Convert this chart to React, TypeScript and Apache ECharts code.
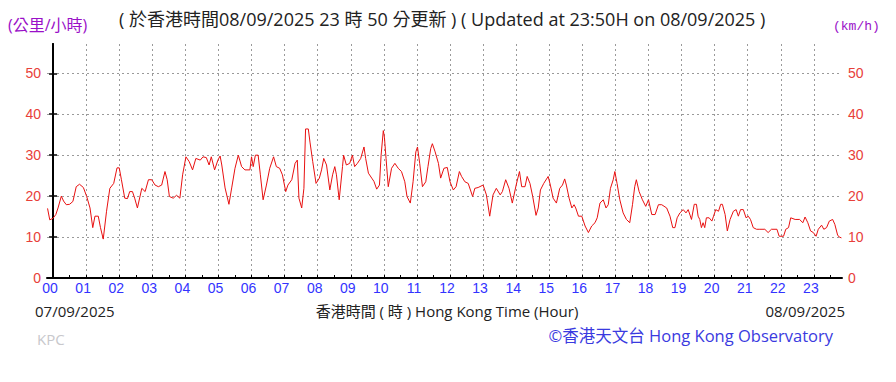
import React, { useEffect, useRef } from "react";
import * as echarts from "echarts";

// minutes from 00:00 (hour axis 00..23), wind speed km/h
const minutes = [
  -10, -6, 0, 5, 9, 15, 19, 24, 30, 36, 42, 48, 55, 61, 67, 72, 76, 82, 86, 91, 97, 103, 110, 116, 120, 124, 130, 135, 139, 144, 148, 153, 161, 167, 173, 179, 185, 191, 197, 203, 207, 211, 218, 224, 230, 235, 241, 247, 253, 259, 267, 272, 278, 283, 287, 293, 299, 303,
  306, 312, 319, 324, 330, 336, 342, 348, 357, 360, 363, 367, 372, 376, 381, 387, 393, 400, 405, 411, 416, 422, 426, 433, 439, 443, 446, 451, 455, 458, 463, 466, 471, 477, 483, 487, 491, 496, 502, 507, 511, 514, 519, 525, 527, 532, 538, 543, 547, 552, 558, 564, 567, 572, 578, 582, 587, 592,
  595, 599, 601, 604, 608, 614, 620, 626, 632, 638, 642, 648, 653, 658, 661, 665, 670, 676, 680, 685, 688, 693, 699, 703, 709, 715, 720, 726, 731, 737, 741, 747, 753, 761, 765, 771, 780, 786, 792, 798, 804, 811, 815, 821, 827, 833, 840, 846, 850, 856, 860, 865, 870, 876, 880,
  884, 890, 898, 902, 907, 913, 919, 924, 928, 931, 936, 941, 945, 948, 953, 959, 965, 971, 977, 983, 987, 992, 998, 1003, 1007, 1011, 1016, 1019, 1023, 1028, 1034, 1040, 1046, 1051, 1055, 1058, 1063, 1069, 1075, 1080, 1086, 1092, 1098, 1104, 1113, 1119, 1124, 1128, 1132,
  1137, 1143, 1148, 1152, 1158, 1163, 1167, 1170, 1173, 1176, 1179, 1182, 1185, 1190, 1195, 1198, 1202, 1207, 1211, 1214, 1219, 1223, 1228, 1234, 1239, 1243, 1247, 1252, 1257, 1261, 1265, 1270, 1276, 1282, 1291, 1297, 1303, 1313, 1317, 1325, 1329, 1334, 1338, 1346, 1354, 1360, 1364, 1369, 1374, 1379, 1384, 1388, 1394, 1398, 1403, 1408, 1414, 1418, 1423, 1426, 1430,
];

const speeds = [
  17.0, 14.2, 14.6, 15.5, 17.1, 20, 18.8, 17.9, 18, 18.7, 22.3, 22.9, 22.1, 19.9, 17.1, 12.3, 15.1, 15.1, 12.3, 9.5, 16.3, 21.9, 23.1, 26.9, 26.9, 24, 19.5, 19.4, 21.1, 21.1, 19.5, 17.1, 21.9, 21.1, 24, 24, 22.7, 22.3, 22.7, 26, 24, 19.9, 19.5, 20.2, 19.5, 25.2, 29.6, 28.4, 26.4, 29.2, 28.8, 29.6, 29.4, 27.6, 29.6, 26.4, 28.8, 29.8,
  27.6, 22, 18, 22, 26.8, 30, 27.2, 26.4, 26.4, 29.6, 27.2, 30, 30, 25.2, 19.1, 22.7, 26.8, 29.6, 27.2, 26.8, 25.2, 21.1, 22.7, 24, 28, 28.8, 19.5, 17.1, 21.9, 36.4, 36.4, 33.2, 28.4, 23.1, 24.4, 26.4, 29.2, 27.6, 21.5, 25.2, 27.2, 25.2, 19.1, 27.2, 30, 27.6, 28, 30, 27.2, 28, 29.2, 32, 29.2, 25.6, 24.4, 23.6, 21.7, 22.7,
  30, 36, 34.4, 29.2, 22.3, 26.8, 28, 26.8, 26, 23.5, 19.9, 18.3, 23.5, 30.8, 32, 28, 22.3, 23.5, 27.2, 31.6, 32.8, 30.8, 28, 24.4, 26.8, 27, 23.5, 21.5, 22.3, 26, 24.8, 23.5, 23.1, 19.9, 21.9, 22.1, 22.7, 20.3, 15.1, 20.3, 21.9, 20.3, 21.1, 24, 21.9, 18.3, 22.7, 26, 22.3, 22.3, 24.8, 23.1, 19.9, 15.3, 17.1,
  21.5, 23.1, 24.8, 22.7, 19.5, 18.3, 21.9, 22.7, 24.2, 22.7, 19.5, 17.1, 17.9, 17.1, 15.1, 15.1, 12.7, 11.1, 12.7, 13.5, 14.7, 18.3, 19.1, 17.1, 17.9, 21.9, 24, 26, 23.1, 19.1, 15.9, 14.3, 13.5, 17.9, 22.3, 24, 21.1, 19.1, 17.5, 19.1, 15.5, 15.5, 17.9, 17.9, 17.1, 15.1, 12.3, 12.3, 14.7,
  15.9, 16.7, 15.9, 16.7, 14.3, 18, 18, 15.1, 14.3, 12.3, 13.5, 12.3, 14.7, 14.7, 13.9, 15.1, 16.7, 16.3, 18, 18, 15.5, 11.5, 14.3, 16.3, 16.7, 15.1, 16.7, 16.7, 14.7, 15.1, 14.3, 12.3, 11.9, 11.9, 11.9, 11.1, 11.9, 11.9, 10.2, 10.2, 11.9, 12.3, 14.7, 14.3, 14.3, 13.5, 14.9, 13.5, 11.5, 11.1, 10.2, 11.9, 12.9, 11.9, 12.3, 13.9, 14.3, 13.1, 10.5, 10, 9.8,
];

const hourTicks = [0, 60, 120, 180, 240, 300, 360, 420, 480, 540, 600, 660, 720, 780, 840, 900, 960, 1020, 1080, 1140, 1200, 1260, 1320, 1380];
const halfHourTicks = [30, 90, 150, 210, 270, 330, 390, 450, 510, 570, 630, 690, 750, 810, 870, 930, 990, 1050, 1110, 1170, 1230, 1290, 1350, 1410];
const speedTicks = [0, 10, 20, 30, 40, 50];

const titleText = "( 於香港時間08/09/2025 23 時 50 分更新 ) ( Updated at 23:50H on 08/09/2025 )";
const unitLeft = "(公里/小時)";
const unitRight = "(km/h)";
const dateLeft = "07/09/2025";
const dateRight = "08/09/2025";
const axisName = "香港時間 ( 時 ) Hong Kong Time (Hour)";
const stationText = "KPC";
const creditText = "©香港天文台 Hong Kong Observatory";

const SANS = "'Segoe UI', 'Open Sans', 'Noto Sans', 'Noto Sans CJK TC', sans-serif";
const ARIAL = "'Liberation Sans', Arial, sans-serif";

export default function App() {
  const ref = useRef<HTMLDivElement>(null);
  useEffect(() => {
    if (!ref.current) return;
    const chart = echarts.init(ref.current, undefined, { renderer: "svg" });
    const data = minutes.map((m, i) => [m, speeds[i]]);
    const gridLine = { show: true, lineStyle: { color: "#9a9a9a", width: 1, type: [2, 3] as any } };
    const yAxisBase = {
      type: "value" as const,
      min: 0,
      max: 57.15,
      axisLine: { show: true, lineStyle: { color: "#000", width: 2 } },
      axisTick: { show: true, inside: true, length: 4, customValues: speedTicks, lineStyle: { color: "#000", width: 1.5 } },
      axisLabel: { customValues: speedTicks, color: "#e8403a", fontSize: 14, fontFamily: ARIAL, margin: 6 },
    };
    const text = (x: number, y: number, t: string, font: string, fill: string, align = "left") => ({
      type: "text",
      x,
      y,
      style: { text: t, font, fill, textAlign: align, align, textVerticalAlign: "middle", verticalAlign: "middle" },
    });
    chart.setOption({
      animation: false,
      backgroundColor: "#fff",
      grid: { left: 47, right: 54, top: 44, bottom: 104, containLabel: false },
      xAxis: [
        {
          type: "value",
          min: -11,
          max: 1431,
          axisLine: { show: true, onZero: false, lineStyle: { color: "#000", width: 2 } },
          axisTick: { show: true, inside: true, length: 3, customValues: hourTicks, lineStyle: { color: "#000" } },
          axisLabel: {
            customValues: hourTicks,
            color: "#3333ff",
            fontSize: 14,
            fontFamily: ARIAL,
            margin: 3,
            padding: [0, 6, 0, 0],
            formatter: (v: number) => String(Math.round(v / 60)).padStart(2, "0"),
          },
          splitLine: gridLine,
        },
        {
          type: "value",
          min: -11,
          max: 1431,
          position: "bottom",
          axisLine: { show: false },
          axisTick: { show: true, inside: true, length: 3, customValues: halfHourTicks, lineStyle: { color: "#000" } },
          axisLabel: { show: false },
          splitLine: { show: false },
        },
      ],
      yAxis: [
        { ...yAxisBase, position: "left", splitLine: gridLine },
        { ...yAxisBase, position: "right", splitLine: { show: false } },
      ],
      series: [
        {
          type: "line",
          data,
          xAxisIndex: 0,
          yAxisIndex: 0,
          showSymbol: false,
          symbol: "none",
          lineStyle: { color: "#e81010", width: 1 },
        },
      ],
      graphic: [
        text(8, 25, unitLeft, `16px ${SANS}`, "#9a10c8"),
        text(119, 19, titleText, `18px ${SANS}`, "#222"),
        text(833, 26, unitRight, `13px 'Liberation Mono', 'DejaVu Sans Mono', monospace`, "#9a10c8"),
        text(35, 311, dateLeft, `15px ${SANS}`, "#222"),
        text(447, 311, axisName, `15px ${SANS}`, "#222", "center"),
        text(845, 311, dateRight, `15px ${SANS}`, "#222", "right"),
        text(37, 339, stationText, `15px ${SANS}`, "#c8c8cc"),
        text(833, 335, creditText, `16.5px ${SANS}`, "#3a3ae0", "right"),
      ],
    });
    return () => chart.dispose();
  }, []);
  return <div ref={ref} style={{ width: 896, height: 382, position: "absolute", left: 0, top: 0 }} />;
}
